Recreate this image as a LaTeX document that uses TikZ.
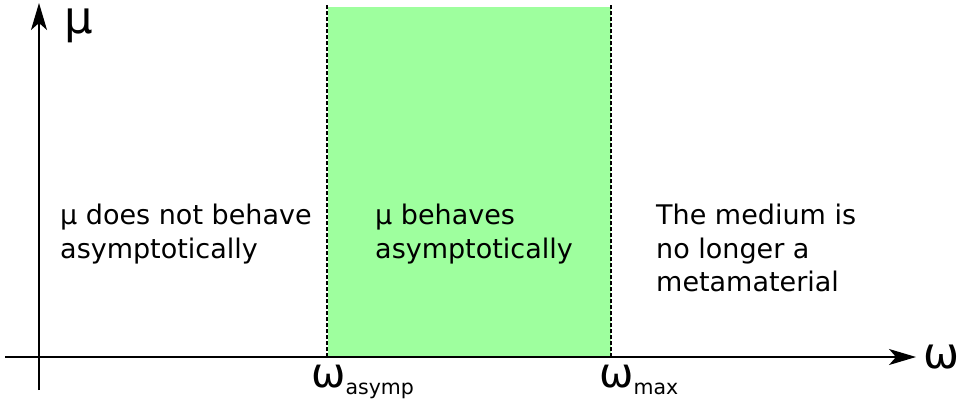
\documentclass[tikz,border=0pt]{standalone}
\usepackage{fontspec}
\setmainfont{DejaVu Sans}
\usetikzlibrary{arrows.meta}
\definecolor{regiongreen}{RGB}{158,255,158}
\tikzset{
  axis/.style={line width=1.3pt, -{Stealth[length=27pt,width=16pt,inset=7pt]}},
  bound/.style={line width=1.1pt, dash pattern=on 4pt off 2pt},
  body/.style={inner sep=0pt, anchor=north west, align=left, font=\fontsize{27}{33.5}\selectfont},
  biglabel/.style={inner sep=0pt, anchor=base west},
}
\begin{document}
\begin{tikzpicture}[x=1pt,y=-1pt]
\useasboundingbox (0,0) rectangle (964,405);
% coordinates
\coordinate (xstart) at (5,357);
\coordinate (xend) at (916,357);
\coordinate (ystart) at (39,390);
\coordinate (yend) at (39,3);
\coordinate (a0) at (327,357);
\coordinate (a1) at (327,5);
\coordinate (m0) at (611,357);
\coordinate (m1) at (611,5);
% green region
\fill[regiongreen] (328,7) rectangle (611,357);
% boundaries
\draw[bound] (a0) -- (a1);
\draw[bound] (m0) -- (m1);
% axes
\draw[axis] (xstart) -- (xend);
\draw[axis] (ystart) -- (yend);
% axis labels
\node[biglabel, text height=26pt] (mu) at (64,33) {\fontsize{45}{45}\selectfont μ};
\node[biglabel] (om) at (923,368) {\fontsize{43}{43}\selectfont ω};
\node[biglabel] (wasymp) at (311,387) {\fontsize{41}{41}\selectfont ω\raisebox{-7pt}{\fontsize{20.5}{20.5}\selectfont asymp}};
\node[biglabel] (wmax) at (599,387) {\fontsize{41}{41}\selectfont ω\raisebox{-7pt}{\fontsize{20.5}{20.5}\selectfont max}};
% region texts
\node[body] (t1) at (60,204) {μ does not behave\\asymptotically};
\node[body] (t2) at (375,204) {μ behaves\\asymptotically};
\node[body] (t3) at (656,204) {The medium is\\no longer a\\metamaterial};
\end{tikzpicture}
\end{document}
